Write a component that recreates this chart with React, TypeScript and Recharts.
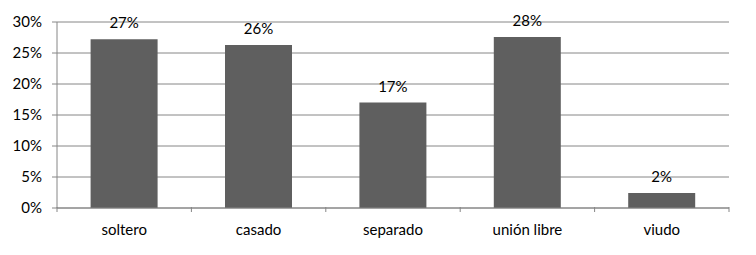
import { BarChart, Bar, XAxis, YAxis, CartesianGrid, LabelList } from 'recharts';

const categories = ['soltero', 'casado', 'separado', 'unión libre', 'viudo'];
const shares = [27.2, 26.3, 17.0, 27.6, 2.4];
const yTicks = [0, 5, 10, 15, 20, 25, 30];

const data = categories.map((name, i) => ({ name, value: shares[i] }));

const FONT = 'Lato, "Open Sans", sans-serif';
const AXIS = '#868686';
const SIZE = 15;

// x tick: label at band centre, short marks at band edges (Excel style)
function CategoryTick(props: any) {
  const { x, y, payload, index, visibleTicksCount } = props;
  const half = payload.offset ?? 67;
  const top = y - 17;
  return (
    <g>
      <line x1={x - half} x2={x - half} y1={top} y2={top + 5} stroke={AXIS} />
      {index === visibleTicksCount - 1 && (
        <line x1={x + half} x2={x + half} y1={top} y2={top + 5} stroke={AXIS} />
      )}
      <text x={x} y={y} dy="0.71em" textAnchor="middle" fill="#000" fontSize={SIZE} fontFamily={FONT}>
        {payload.value}
      </text>
    </g>
  );
}

export default function App() {
  return (
    <div style={{ position: 'absolute', left: 0, top: 0, background: '#fff' }}>
      <BarChart
        width={756}
        height={255}
        data={data}
        margin={{ top: 22, right: 27, bottom: 17, left: 0 }}
        barCategoryGap="25%"
      >
        <CartesianGrid vertical={false} stroke={AXIS} />
        <XAxis
          dataKey="name"
          height={30}
          stroke={AXIS}
          tickLine={{ stroke: 'none' }}
          tickSize={5}
          tickMargin={11}
          tick={<CategoryTick />}
          interval={0}
        />
        <YAxis
          width={57}
          domain={[0, 30]}
          ticks={yTicks}
          stroke={AXIS}
          tickSize={5}
          tickMargin={10}
          tickFormatter={(v: number) => `${v}%`}
          tick={{ fill: '#000', fontSize: SIZE, fontFamily: FONT }}
        />
        <Bar dataKey="value" fill="#5f5f5f" isAnimationActive={false}>
          <LabelList
            dataKey="value"
            position="top"
            offset={11}
            formatter={(v: any) => `${Math.round(Number(v))}%`}
            style={{ fill: '#000', fontSize: SIZE, fontFamily: FONT }}
          />
        </Bar>
      </BarChart>
    </div>
  );
}
